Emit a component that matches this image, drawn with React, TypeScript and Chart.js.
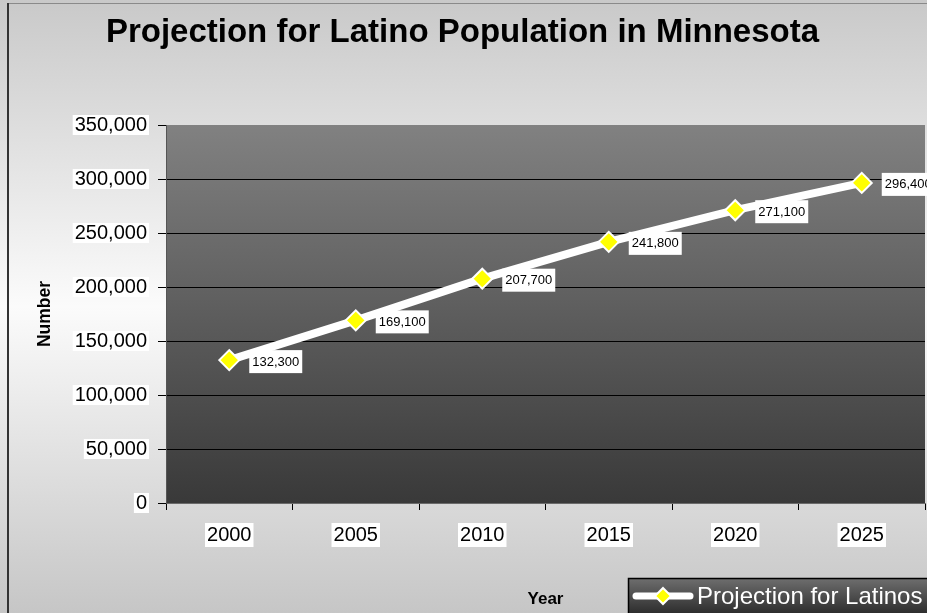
import React, { useEffect, useRef } from "react";
import { Chart, registerables } from "chart.js";

Chart.register(...registerables);

const TITLE = "Projection for Latino Population in Minnesota";
const SERIES_LABEL = "Projection for Latinos";
const YEARS = ["2000", "2005", "2010", "2015", "2020", "2025"];
const VALUES = [132300, 169100, 207700, 241800, 271100, 296400];
const Y_MIN = 0;
const Y_MAX = 350000;
const Y_STEP = 50000;
const X_TITLE = "Year";
const Y_TITLE = "Number";

const FONT = "'Liberation Sans', Arial, sans-serif";
const fmt = (v: number) => v.toLocaleString("en-US");

const backgroundPlugin = {
  id: "bgPlugin",
  beforeDraw(chart: any) {
    const { ctx, width, height, chartArea } = chart;
    ctx.save();
    const g = ctx.createLinearGradient(0, 0, 0, height);
    g.addColorStop(0, "#c9c9c9");
    g.addColorStop(0.5, "#fbfbfb");
    g.addColorStop(1, "#c6c6c6");
    ctx.fillStyle = g;
    ctx.fillRect(0, 0, width, height);
    ctx.strokeStyle = "#8a8a8a";
    ctx.lineWidth = 1;
    ctx.beginPath();
    ctx.moveTo(7, 3.5);
    ctx.lineTo(width, 3.5);
    ctx.stroke();
    ctx.strokeStyle = "#333";
    ctx.lineWidth = 2;
    ctx.beginPath();
    ctx.moveTo(8, 3);
    ctx.lineTo(8, height);
    ctx.stroke();
    const pg = ctx.createLinearGradient(0, chartArea.top, 0, chartArea.bottom);
    pg.addColorStop(0, "#818181");
    pg.addColorStop(1, "#393939");
    ctx.fillStyle = pg;
    ctx.fillRect(chartArea.left, chartArea.top, chartArea.right - chartArea.left, chartArea.bottom - chartArea.top);
    ctx.restore();
  },
};

const dataLabelPlugin = {
  id: "dataLabels",
  afterDatasetsDraw(chart: any) {
    const { ctx } = chart;
    const meta = chart.getDatasetMeta(0);
    const data = chart.data.datasets[0].data as number[];
    ctx.save();
    ctx.font = `13px ${FONT}`;
    ctx.textBaseline = "middle";
    ctx.textAlign = "left";
    meta.data.forEach((pt: any, i: number) => {
      const text = fmt(data[i]);
      const w = ctx.measureText(text).width;
      const bx = pt.x + 20;
      const by = pt.y - 10;
      ctx.fillStyle = "#ffffff";
      ctx.fillRect(bx, by, w + 6, 23);
      ctx.fillStyle = "#000000";
      ctx.fillText(text, bx + 3, by + 12);
    });
    ctx.restore();
  },
};

const legendPlugin = {
  id: "customLegend",
  afterDraw(chart: any) {
    const { ctx, width, height } = chart;
    const label = chart.data.datasets[0].label as string;
    const x0 = 628.5;
    const y0 = 578.5;
    ctx.save();
    const g = ctx.createLinearGradient(0, y0, 0, height);
    g.addColorStop(0, "#6e6e6e");
    g.addColorStop(1, "#2e2e2e");
    ctx.fillStyle = g;
    ctx.fillRect(x0, y0, width - x0 + 2, height - y0 + 2);
    ctx.strokeStyle = "#000";
    ctx.lineWidth = 1.5;
    ctx.strokeRect(x0, y0, width - x0 + 4, height - y0 + 4);
    const cy = 596;
    ctx.strokeStyle = "#fff";
    ctx.lineWidth = 7;
    ctx.lineCap = "round";
    ctx.beginPath();
    ctx.moveTo(636, cy);
    ctx.lineTo(690, cy);
    ctx.stroke();
    ctx.beginPath();
    ctx.moveTo(663, cy - 8);
    ctx.lineTo(671, cy);
    ctx.lineTo(663, cy + 8);
    ctx.lineTo(655, cy);
    ctx.closePath();
    ctx.fillStyle = "#ffff00";
    ctx.fill();
    ctx.lineWidth = 2;
    ctx.lineJoin = "miter";
    ctx.strokeStyle = "#fff";
    ctx.stroke();
    ctx.fillStyle = "#ffffff";
    ctx.font = `24px ${FONT}`;
    ctx.textBaseline = "middle";
    ctx.textAlign = "left";
    ctx.fillText(label, 697, cy + 1);
    ctx.restore();
  },
};

export default function App() {
  const canvasRef = useRef<HTMLCanvasElement | null>(null);

  useEffect(() => {
    document.body.style.margin = "0";
    const canvas = canvasRef.current;
    if (!canvas) return;
    const chart = new Chart(canvas, {
      type: "line",
      data: {
        labels: YEARS,
        datasets: [
          {
            label: SERIES_LABEL,
            data: VALUES,
            borderColor: "#ffffff",
            borderWidth: 8,
            backgroundColor: "#ffff00",
            pointStyle: "rectRot",
            pointRadius: 10,
            pointHoverRadius: 10,
            pointBackgroundColor: "#ffff00",
            pointBorderColor: "#ffffff",
            pointBorderWidth: 2,
            tension: 0,
            fill: false,
          },
        ],
      },
      options: {
        responsive: false,
        animation: false,
        devicePixelRatio: 1,
        layout: { autoPadding: false, padding: { left: 0, right: 2, top: 0, bottom: 0 } },
        plugins: {
          legend: { display: false },
          tooltip: { enabled: false },
          title: {
            display: true,
            text: TITLE,
            color: "#000",
            font: { family: FONT, size: 33, weight: "bold", lineHeight: 1.2 },
            padding: { top: 13, bottom: 72.4 },
          },
        },
        scales: {
          x: {
            type: "category",
            offset: true,
            afterFit: (s: any) => {
              s.height = 110;
              s.paddingLeft = 0;
              s.paddingRight = 0;
            },
            grid: {
              display: true,
              drawOnChartArea: false,
              drawTicks: true,
              tickLength: 7,
              color: "#000",
              offset: true,
            },
            border: { display: true, color: "#6a6a6a", width: 1 },
            ticks: {
              color: "#000",
              font: { family: FONT, size: 20, lineHeight: 1.1 },
              padding: 14,
              maxRotation: 0,
              showLabelBackdrop: true,
              backdropColor: "#ffffff",
              backdropPadding: { x: 2, y: 1 },
            },
            title: {
              display: true,
              text: X_TITLE,
              color: "#000",
              font: { family: FONT, size: 17, weight: "bold", lineHeight: 1.2 },
              padding: { top: 0, bottom: 3 },
            },
          },
          y: {
            min: Y_MIN,
            max: Y_MAX,
            afterFit: (s: any) => {
              s.width = 166;
            },
            grid: {
              display: true,
              drawOnChartArea: true,
              drawTicks: true,
              tickLength: 8,
              color: (c: any) => (c.tick && c.tick.value === Y_MAX ? "rgba(0,0,0,0)" : "#000"),
              tickColor: "#000",
            },
            border: { display: true, color: "#555", width: 1 },
            ticks: {
              stepSize: Y_STEP,
              color: "#000",
              font: { family: FONT, size: 20, lineHeight: 1.0 },
              padding: 11,
              callback: (v: any) => fmt(Number(v)),
              showLabelBackdrop: true,
              backdropColor: "#ffffff",
              backdropPadding: { x: 2, y: 0 },
            },
            title: {
              display: true,
              text: Y_TITLE,
              color: "#000",
              font: { family: FONT, size: 17.5, weight: "bold", lineHeight: 1.2 },
              padding: { top: 35, bottom: 0 },
            },
          },
        },
      },
      plugins: [backgroundPlugin, dataLabelPlugin, legendPlugin],
    } as any);
    return () => chart.destroy();
  }, []);

  return (
    <div style={{ width: 927, height: 613, position: "relative" }}>
      <canvas ref={canvasRef} width={927} height={613} style={{ display: "block", width: 927, height: 613 }} />
    </div>
  );
}
